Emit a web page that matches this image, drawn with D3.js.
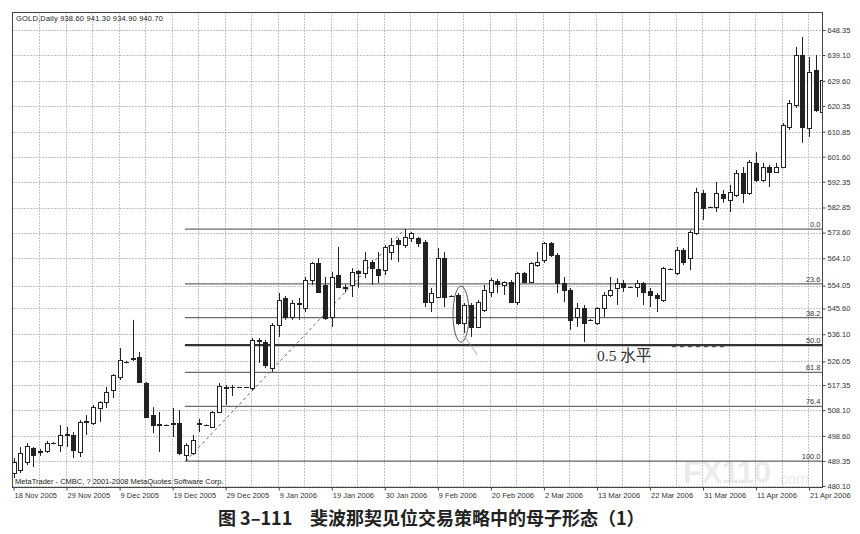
<!DOCTYPE html>
<html><head><meta charset="utf-8">
<script src="https://cdn.jsdelivr.net/npm/d3@7/dist/d3.min.js"></script>
<style>body{margin:0;background:#fff;} svg{display:block;}</style>
</head><body>
<svg id="c" width="860" height="534"></svg>
<script>
const dateLabels = ["18 Nov 2005","29 Nov 2005","9 Dec 2005","19 Dec 2005","29 Dec 2005","9 Jan 2006","19 Jan 2006","30 Jan 2006","9 Feb 2006","20 Feb 2006","2 Mar 2006","13 Mar 2006","22 Mar 2006","31 Mar 2006","11 Apr 2006","21 Apr 2006"];
const priceTicks = [480.10,489.35,498.60,508.10,517.35,526.05,536.10,545.60,554.05,564.10,573.60,582.85,592.35,601.60,610.85,620.35,629.60,639.10,648.35];
const opens = [484.9,485.9,488.9,494.1,492.6,493.0,495.9,495.2,498.9,498.9,492.6,503.7,503.3,508.9,511.1,515.5,520.3,525.7,526.9,527.7,
518.1,506.3,502.6,502.6,502.9,503.3,491.5,492.3,503.5,502.6,501.9,507.4,516.3,516.6,516.6,516.6,516.3,533.6,533.2,523.6,
539.5,549.5,542.5,547.8,545.8,556.1,562.4,554.3,542.5,557.9,553.0,554.3,559.4,558.7,562.7,560.2,559.8,566.4,570.9,569.0,
571.6,571.6,570.1,548.0,549.8,564.2,550.2,550.6,540.2,546.9,538.8,545.0,551.7,555.7,554.3,555.4,548.0,558.7,555.4,561.6,
563.5,569.8,565.3,555.0,552.4,542.5,545.8,541.4,540.2,545.8,550.6,553.2,555.0,553.5,553.5,555.0,552.0,550.6,548.7,560.2,
558.7,567.2,564.2,573.4,588.2,583.0,583.0,587.8,585.6,587.5,595.6,588.2,599.3,593.0,597.8,596.0,597.8,612.6,620.7,639.1,
612.2,633.6,618.1];
const highs = [490.4,494.5,495.9,494.5,493.8,496.7,496.3,502.6,501.9,500.0,504.4,506.3,510.0,511.4,516.6,521.4,531.0,526.3,541.4,529.5,
518.5,509.2,507.4,502.8,508.9,508.1,495.9,498.9,504.9,502.8,507.8,518.1,517.4,517.4,516.6,516.6,534.7,534.7,534.0,540.2,
551.3,550.2,548.7,549.5,557.2,562.7,564.2,557.2,559.1,568.3,554.5,560.5,559.8,566.4,563.5,566.4,569.0,571.6,571.6,574.9,
573.8,572.0,570.9,553.2,567.9,566.4,550.5,551.3,547.6,547.6,548.7,554.3,556.9,556.5,555.6,556.1,559.1,559.1,562.7,566.4,
570.1,570.1,566.1,557.2,553.2,547.6,546.9,541.7,546.1,551.7,557.2,556.8,556.1,553.7,556.1,555.4,553.2,551.3,560.9,560.4,
568.3,567.9,574.5,590.1,589.3,583.2,592.3,589.3,591.2,596.7,597.8,600.4,603.3,599.3,598.6,599.3,614.0,622.5,642.1,645.8,
638.4,639.1,634.7];
const lows = [483.0,484.9,487.8,487.1,491.2,492.3,495.5,492.6,494.5,490.4,490.8,498.9,502.6,503.7,508.9,512.6,519.2,525.4,526.2,518.1,
505.2,499.6,492.6,502.4,498.2,491.5,489.3,491.5,500.0,502.4,501.6,507.0,510.0,513.3,516.6,516.6,515.5,525.5,523.6,522.2,
535.1,541.4,541.4,541.4,544.3,554.3,551.4,541.4,538.8,553.2,551.5,549.8,553.2,556.8,554.3,555.0,557.9,563.5,562.7,567.9,
570.1,568.3,546.1,544.3,549.5,546.1,549.9,539.5,536.5,535.1,538.4,544.3,549.8,551.3,550.6,547.6,546.9,555.0,555.0,560.9,
562.4,564.6,551.3,548.0,537.7,538.8,533.2,541.1,539.5,542.5,549.8,546.9,551.7,553.3,549.8,546.9,546.1,544.3,548.0,560.0,
557.9,561.6,559.8,572.7,578.3,582.8,581.2,584.6,581.2,586.7,584.5,587.5,592.3,592.3,590.4,595.6,597.4,611.5,619.6,606.7,
608.9,618.1,617.0];
const closes = [488.9,492.3,494.7,491.5,492.9,495.9,495.9,498.9,499.2,493.4,503.7,504.0,509.2,511.1,514.8,521.1,526.6,526.0,527.3,518.5,
505.6,502.6,502.9,502.6,503.3,492.3,495.2,497.1,503.0,502.6,507.4,517.0,516.6,516.8,516.6,516.6,534.0,534.0,524.8,539.5,
548.7,542.5,547.6,547.3,556.1,562.4,551.7,542.1,557.2,553.5,553.5,559.1,558.7,563.5,560.5,557.9,568.3,569.0,569.4,572.0,
573.4,569.8,548.0,551.3,564.2,549.8,550.2,540.2,546.9,538.8,548.0,552.4,556.1,554.6,555.4,548.0,558.7,555.4,562.4,562.7,
569.8,565.3,555.0,552.4,541.4,545.8,540.2,541.4,545.8,550.6,552.4,555.0,553.5,553.5,555.0,551.7,550.6,549.5,560.5,560.2,
567.2,562.7,573.8,588.6,582.7,583.0,588.2,586.4,588.6,595.6,588.2,599.6,593.0,597.8,596.0,597.8,613.3,621.4,639.1,612.6,
632.9,618.8,629.9];
const fibLevels = [0.0, 23.6, 38.2, 50.0, 61.8, 76.4, 100.0];
const fibLowBar = 26, fibHighBar = 59;
const titleText = "GOLD,Daily  938.60 941.30 934.90 940.70";
const footerText = "MetaTrader - CMBC, ? 2001-2008 MetaQuotes Software Corp.";
const captionNum = "图 3–111";
const captionText = "斐波那契见位交易策略中的母子形态（1）";
const noteText = "0.5 水平";

const svg = d3.select("#c");
const L = 12.5, R = 822.5, T = 12.5, B = 487.5;
const x = d3.scaleLinear().domain([0, 122]).range([13.5, 13.5 + 6.63 * 122]);
const y = d3.scaleLinear().domain([480.10, 648.35]).range([486, 30]);
const smallFont = "Liberation Sans, Arial, sans-serif";

svg.append("defs").append("clipPath").attr("id", "plot")
  .append("rect").attr("x", L).attr("y", T).attr("width", R - L).attr("height", B - T);

const plot = svg.append("g").attr("clip-path", "url(#plot)");

// watermark (inside plot, clipped)
const wm = plot.append("g").attr("fill", "#ebebeb");
wm.append("text").attr("x", 683).attr("y", 483).attr("font-family", "Liberation Sans, Arial")
  .attr("font-weight", "bold").attr("font-size", 31).attr("textLength", 88).text("FX110");
wm.append("text").attr("x", 776).attr("y", 484).attr("font-family", "Liberation Sans, Arial")
  .attr("font-size", 15).text(".com");

// grid
plot.append("g").selectAll("line").data(priceTicks).join("line")
  .attr("x1", L).attr("x2", R)
  .attr("y1", d => Math.round(y(d)) + 0.5).attr("y2", d => Math.round(y(d)) + 0.5)
  .attr("stroke", "#8a8a8a").attr("stroke-width", 1).attr("stroke-dasharray", "1,2");
const vgrid = d3.range(4, 123, 4);
plot.append("g").selectAll("line").data(vgrid).join("line")
  .attr("x1", d => Math.round(x(d)) - 0.5).attr("x2", d => Math.round(x(d)) - 0.5)
  .attr("y1", T).attr("y2", B)
  .attr("stroke", "#8a8a8a").attr("stroke-width", 1).attr("stroke-dasharray", "1,2");

// fibonacci
const fLow = lows[fibLowBar], fHigh = highs[fibHighBar];
const fibY = p => y(fHigh - (fHigh - fLow) * p / 100);
const fg = plot.append("g");
fg.selectAll("line").data(fibLevels).join("line")
  .attr("x1", x(fibLowBar) - 1).attr("x2", R)
  .attr("y1", d => fibY(d)).attr("y2", d => fibY(d))
  .attr("stroke", d => d === 50 ? "#333" : "#6a6a6a")
  .attr("stroke-width", d => d === 50 ? 2.2 : 1.3);
fg.append("line")
  .attr("x1", x(fibLowBar)).attr("y1", y(fLow))
  .attr("x2", x(fibHighBar)).attr("y2", y(fHigh))
  .attr("stroke", "#666").attr("stroke-width", 1).attr("stroke-dasharray", "3,3");
fg.selectAll("text").data(fibLevels).join("text")
  .attr("x", R - 2).attr("y", d => fibY(d) - 2)
  .attr("text-anchor", "end").attr("font-family", smallFont).attr("font-size", 7.5)
  .attr("fill", "#333").text(d => d.toFixed(1));

// candles
const idx = d3.range(opens.length);
const cg = plot.append("g");
const cx = i => Math.round(x(i)) + 0.5;
cg.selectAll("line").data(idx).join("line")
  .attr("x1", cx).attr("x2", cx)
  .attr("y1", i => y(highs[i])).attr("y2", i => y(lows[i]))
  .attr("stroke", "#222").attr("stroke-width", 1);
cg.selectAll("rect").data(idx).join("rect")
  .attr("x", i => cx(i) - 2).attr("width", 4)
  .attr("y", i => Math.round(y(Math.max(opens[i], closes[i]))) + 0.5)
  .attr("height", i => Math.max(0.01, Math.round(y(Math.min(opens[i], closes[i]))) - Math.round(y(Math.max(opens[i], closes[i])))))
  .attr("fill", i => closes[i] >= opens[i] ? "#fff" : "#222")
  .attr("stroke", "#222").attr("stroke-width", 1);

// annotations
plot.append("ellipse").attr("cx", (x(67) + x(68)) / 2).attr("cy", (y(551.5) + y(535.5)) / 2)
  .attr("rx", 8).attr("ry", 28).attr("fill", "none").attr("stroke", "#555").attr("stroke-width", 1);
plot.append("line").attr("x1", x(68)).attr("y1", y(535.5)).attr("x2", x(68) + 13).attr("y2", y(535.5) + 19)
  .attr("stroke", "#999").attr("stroke-width", 0.8);
plot.append("line").attr("x1", 672).attr("x2", 728).attr("y1", fibY(50) + 1.5).attr("y2", fibY(50) + 1.5)
  .attr("stroke", "#555").attr("stroke-width", 1.2).attr("stroke-dasharray", "4,4");
svg.append("text").attr("x", 597).attr("y", 361).attr("font-family", "Liberation Serif, Noto Sans CJK SC, serif")
  .attr("font-size", 15.5).attr("fill", "#333").text(noteText);

// frame
svg.append("rect").attr("x", L).attr("y", T).attr("width", R - L).attr("height", B - T)
  .attr("fill", "none").attr("stroke", "#444").attr("stroke-width", 1);

// axes
const yAxis = d3.axisRight(y).tickValues(priceTicks).tickFormat(d3.format(".2f")).tickSize(3).tickPadding(2);
const ya = svg.append("g").attr("transform", `translate(${R},0)`).call(yAxis);
ya.select(".domain").remove();
ya.selectAll("text").attr("font-family", smallFont).attr("font-size", 7.5).attr("fill", "#333");
ya.selectAll("line").attr("stroke", "#444");

const labelBars = d3.range(0, 121, 8);
const xAxis = d3.axisBottom(x).tickValues(labelBars).tickFormat((d, i) => dateLabels[i]).tickSize(3).tickPadding(2);
const xa = svg.append("g").attr("transform", `translate(0,${B})`).call(xAxis);
xa.select(".domain").remove();
xa.selectAll("text").attr("text-anchor", "start").attr("dx", "0.5")
  .attr("font-family", smallFont).attr("font-size", 7.5).attr("fill", "#333");
xa.selectAll("line").attr("stroke", "#444");

// title & footer
svg.append("text").attr("x", 16).attr("y", 21).attr("font-family", smallFont).attr("font-size", 7.5)
  .attr("fill", "#222").attr("textLength", 147).text(titleText);
svg.append("text").attr("x", 15).attr("y", 484).attr("font-family", smallFont).attr("font-size", 7.5)
  .attr("fill", "#222").text(footerText);

// caption
svg.append("text").attr("x", 218).attr("y", 525).attr("font-family", "Noto Sans CJK SC, sans-serif")
  .attr("font-weight", "bold").attr("font-size", 18).attr("fill", "#222").text(captionNum);
svg.append("text").attr("x", 310).attr("y", 525).attr("font-family", "Noto Sans CJK SC, sans-serif")
  .attr("font-weight", "bold").attr("font-size", 18).attr("fill", "#222").text(captionText);
</script>
</body></html>
